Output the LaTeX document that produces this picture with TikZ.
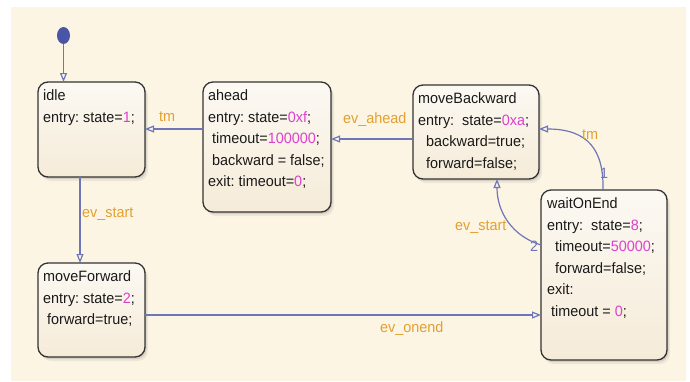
\documentclass[tikz,border=0pt]{standalone}
\usepackage{fontspec}
\setmainfont{Liberation Sans}[FakeStretch=0.96]
\usetikzlibrary{arrows.meta,shadows,shapes.geometric}

\definecolor{canvas}{HTML}{FDF5E4}
\definecolor{statetop}{HTML}{FCF9F3}
\definecolor{statebot}{HTML}{F5EBD8}
\definecolor{stateline}{HTML}{333333}
\definecolor{ink}{HTML}{1A1A1A}
\definecolor{numcol}{HTML}{DD3FCF}
\definecolor{labelcol}{HTML}{E2A030}
\definecolor{edgecol}{HTML}{6E76B9}
\definecolor{dotcol}{HTML}{4B55A5}

\frenchspacing
\newcommand\statefont{\fontsize{15}{21.5}\selectfont}
\newcommand\num[1]{\textcolor{numcol}{#1}}
\newcommand\firstline{\rule{0pt}{12pt}}
\newcommand\ind[1]{\hspace*{#1pt}}

\tikzset{
  state/.style={draw=stateline, line width=1.3pt, rounded corners=10pt,
    top color=statetop, bottom color=statebot,
    anchor=north west, inner sep=0pt, outer sep=0pt,
    drop shadow={opacity=0.12, shadow xshift=3pt, shadow yshift=-4pt},
    drop shadow={opacity=0.22, shadow xshift=1.5pt, shadow yshift=-2pt}},
  stext/.style={anchor=north west, inner sep=0pt, align=left,
    font=\statefont, text=ink},
  tr/.style={draw=edgecol, line width=1.2pt,
    -{Triangle[open, length=9pt, width=7pt]}},
  lbl/.style={text=labelcol, font=\statefont, anchor=base west, inner sep=0pt},
  ord/.style={text=edgecol, font=\statefont, anchor=base west, inner sep=0pt}
}

\begin{document}
\begin{tikzpicture}[x=1pt, y=-1pt]
\useasboundingbox (0,0) rectangle (690,381);
\fill[white] (0,0) rectangle (690,381);
\fill[canvas] (11,7) rectangle (686,381);

% states
\node[state, minimum width=107pt, minimum height=95pt]  (idle)  at (38,82)  {};
\node[state, minimum width=128pt, minimum height=130pt] (ahead) at (203,82) {};
\node[state, minimum width=126pt, minimum height=94pt]  (mb)    at (413,85) {};
\node[state, minimum width=126pt, minimum height=170pt] (wait)  at (541,190) {};
\node[state, minimum width=107pt, minimum height=94pt]  (mf)    at (38,263) {};

% default transition
\node[ellipse, fill=dotcol, minimum width=13pt, minimum height=17pt, inner sep=0pt]
  (init) at (63.5,35.5) {};
\draw[tr] (init) -- (init |- idle.north);

% transitions
\draw[tr] ([yshift=-47pt]ahead.north west) -- ([yshift=-47pt]idle.north east);
\draw[tr] ([yshift=-54pt]mb.north west) -- ([yshift=-57pt]ahead.north east);
\draw[tr] ([xshift=42pt]idle.south west) -- ([xshift=42pt]mf.north west);
\draw[tr] ([yshift=-52pt]mf.north east) -- ([yshift=-125pt]wait.north west);
\draw[tr] ([xshift=62pt]wait.north west) .. controls (604,150) and (588,129) .. ([yshift=-44pt]mb.north east);
\draw[tr] ([yshift=-55pt]wait.north west) .. controls (512,236) and (497,212) .. ([xshift=84pt]mb.south west);

% transition labels
\node[lbl] (lidle)  at (159,121.5) {tm};
\node[lbl] (lahead) at (343,123)   {ev\_ahead};
\node[lbl] (lstart) at (82,217.5)  {ev\_start};
\node[lbl] (lonend) at (380,332)   {ev\_onend};
\node[lbl] (ltm)    at (582,139.5) {tm};
\node[ord] (o1)     at (600,178)   {1};
\node[lbl] (lback)  at (455,230.5) {ev\_start};
\node[ord] (o2)     at (530,251)   {2};

% state actions
\node[stext] (tidle) at ([xshift=5pt,yshift=-6.5pt]idle.north west)
  {\firstline idle\\entry: state=\num{1};};
\node[stext] (tahead) at ([xshift=5pt,yshift=-6.5pt]ahead.north west)
  {\firstline ahead\\entry: state=\num{0xf};\\\ind{4}timeout=\num{100000};\\\ind{4}backward = false;\\exit: timeout=\num{0};};
\node[stext] (tmb) at ([xshift=5pt,yshift=-6.5pt]mb.north west)
  {\firstline moveBackward\\entry:\ \ state=\num{0xa};\\\ind{8}backward=true;\\\ind{8}forward=false;};
\node[stext] (twait) at ([xshift=6pt,yshift=-6.5pt]wait.north west)
  {\firstline waitOnEnd\\entry:\ \ state=\num{8};\\\ind{8}timeout=\num{50000};\\\ind{8}forward=false;\\exit:\\\ind{4}timeout = \num{0};};
\node[stext] (tmf) at ([xshift=5pt,yshift=-6.5pt]mf.north west)
  {\firstline moveForward\\entry: state=\num{2};\\\ind{4}forward=true;};
\end{tikzpicture}
\end{document}
